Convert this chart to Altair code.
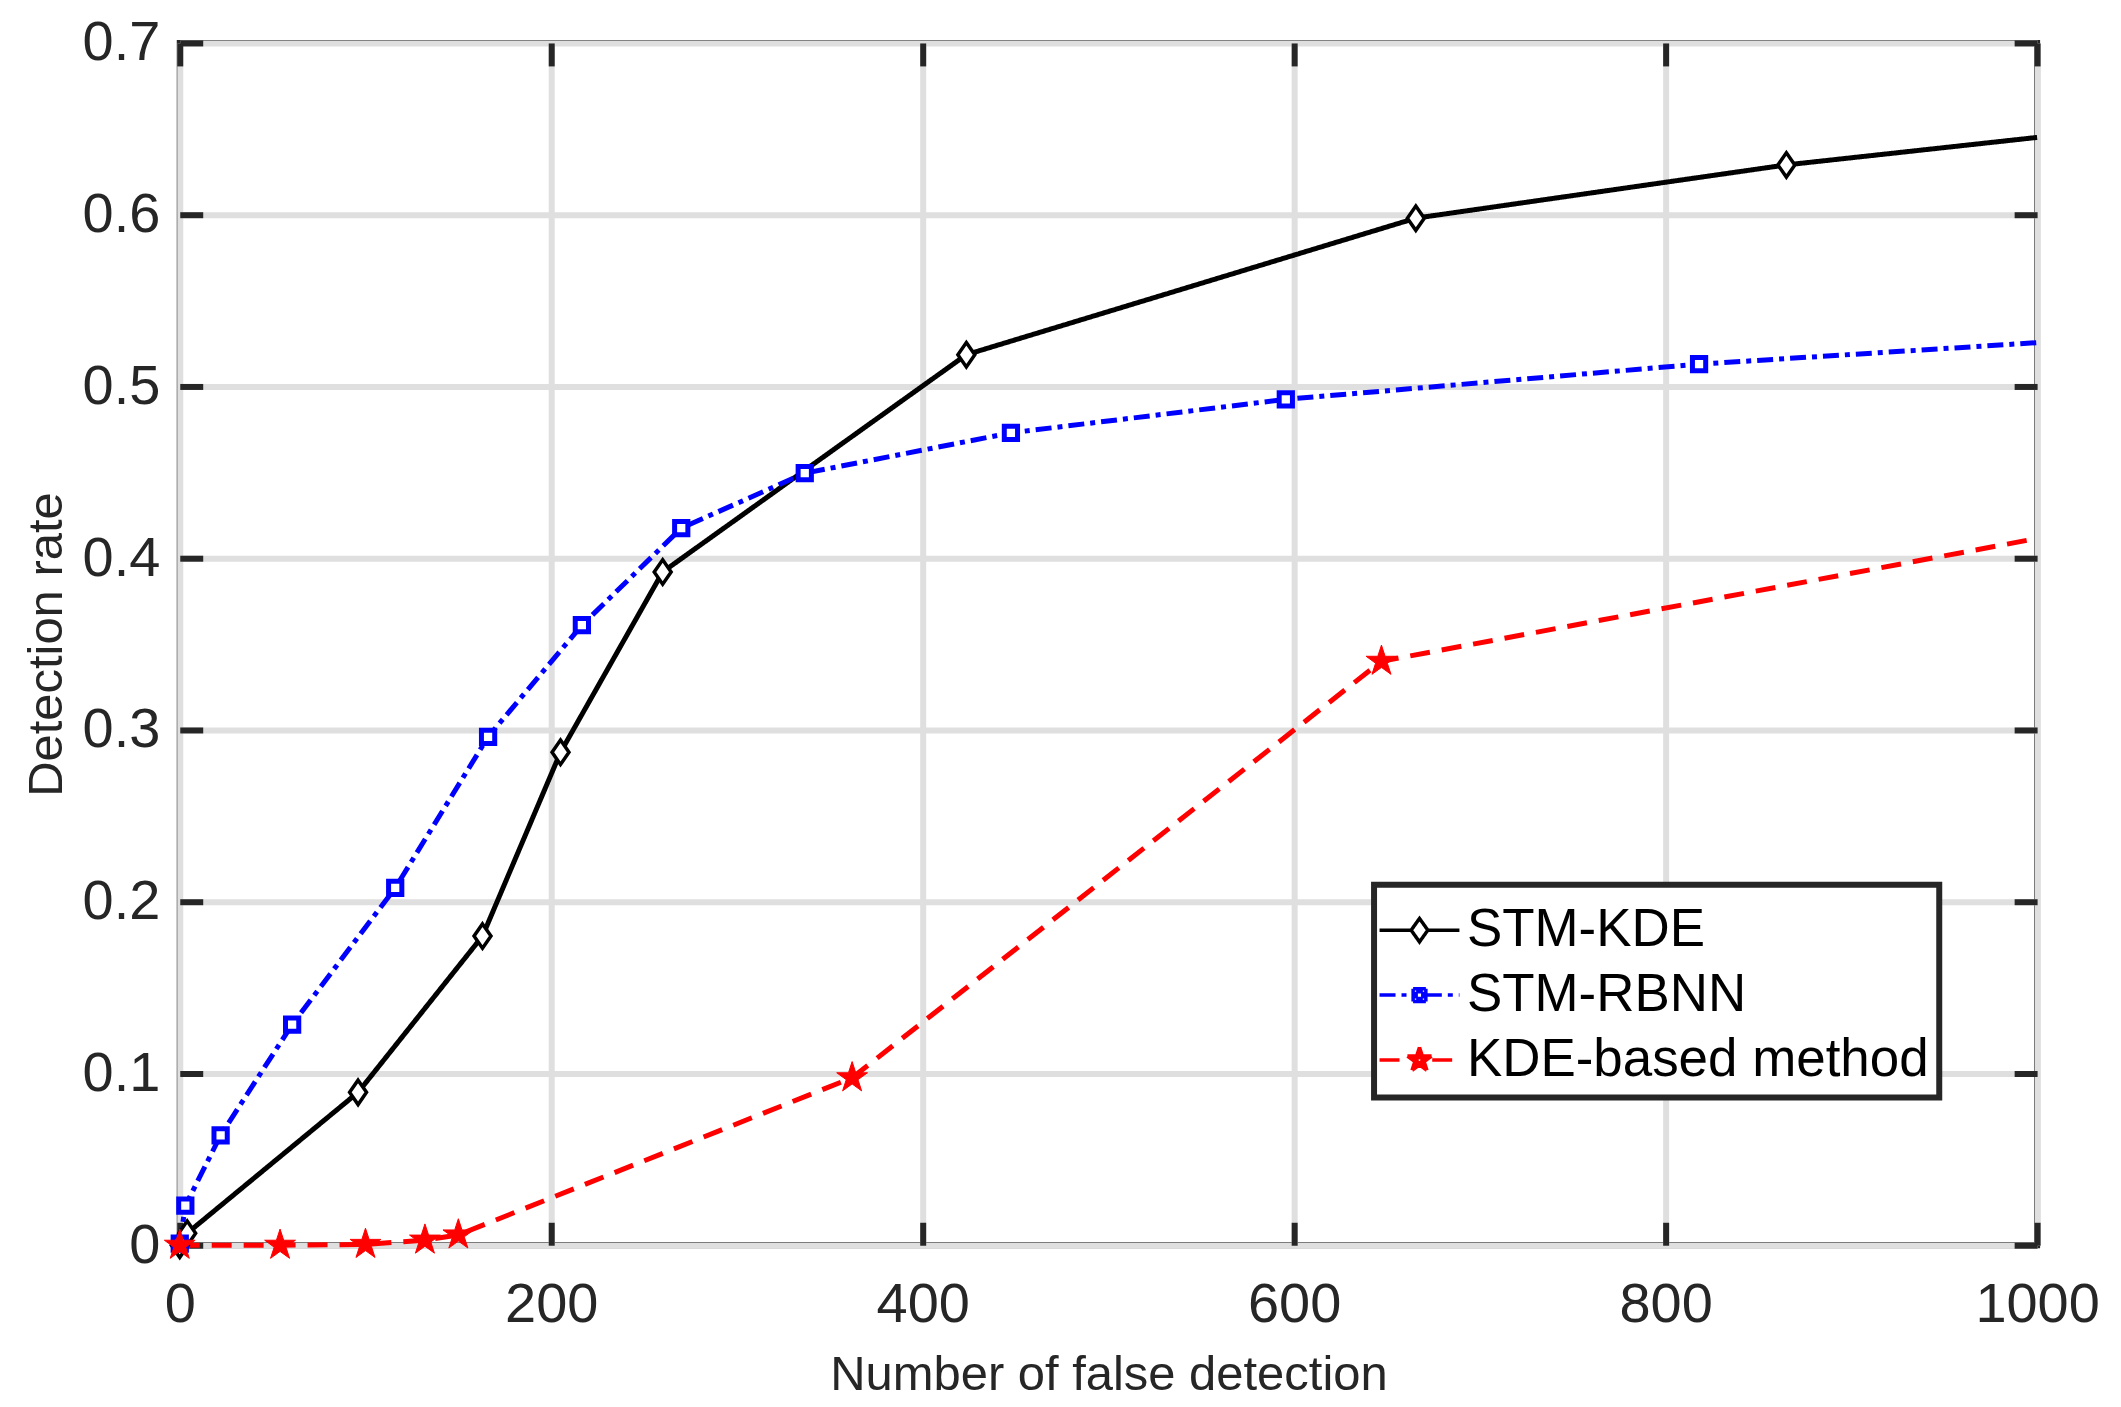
import math
import altair as alt
import pandas as pd

# ---------------- data ----------------
series_names = ["STM-KDE", "STM-RBNN", "KDE-based method"]

stm_kde_x = [0, 4, 96, 163, 205, 260, 423.5, 665.5, 865, 1000]
stm_kde_y = [0, 0.007, 0.089, 0.18, 0.287, 0.392, 0.5185, 0.598, 0.629, 0.645]

stm_rbnn_x = [0, 3, 22, 60.5, 116, 166, 216.5, 270, 336.5, 447.5, 595.5, 818, 1000]
stm_rbnn_y = [0.001, 0.023, 0.064, 0.1285, 0.208, 0.296, 0.361, 0.4175, 0.4495,
              0.473, 0.4925, 0.513, 0.5255]

kde_based_x = [0, 54, 100, 132, 150, 362, 647, 1000]
kde_based_y = [0, 0, 0.0005, 0.003, 0.006, 0.0975, 0.340, 0.4115]

x_ticks = [0, 200, 400, 600, 800, 1000]
y_ticks = [0, 0.1, 0.2, 0.3, 0.4, 0.5, 0.6, 0.7]

x_title = "Number of false detection"
y_title = "Detection rate"

# ---------------- build tables ----------------
line_rows, point_rows = [], []
for name, xs, ys in zip(series_names,
                        [stm_kde_x, stm_rbnn_x, kde_based_x],
                        [stm_kde_y, stm_rbnn_y, kde_based_y]):
    for i, (xv, yv) in enumerate(zip(xs, ys)):
        line_rows.append({"series": name, "x": xv, "y": yv, "order": i})
        if i < len(xs) - 1:  # last value is where the curve meets the axis limit
            point_rows.append({"series": name, "x": xv, "y": yv, "order": i})
line_df = pd.DataFrame(line_rows)
point_df = pd.DataFrame(point_rows)

# ---------------- styles ----------------
FONT = "Liberation Sans"
AX = "#262626"
colors = ["#000000", "#0000ff", "#ff0000"]
dashes = [[1, 0], [16, 6, 5, 6], [20, 12]]


def star_pts(R, inner=0.382):
    pts = []
    for k in range(10):
        ang = math.radians(-90 + 36 * k)
        r = R if k % 2 == 0 else R * inner
        pts.append((r * math.cos(ang), r * math.sin(ang)))
    return pts


def closed(pts):
    return "M" + "L".join(f"{px:.3f},{py:.3f}" for px, py in pts) + "Z"


def edges(pts):
    # every edge as its own sub-path, so a dash pattern never breaks it
    out = ""
    for k in range(len(pts)):
        a, b = pts[k], pts[(k + 1) % len(pts)]
        out += f"M{a[0]:.3f},{a[1]:.3f}L{b[0]:.3f},{b[1]:.3f}"
    return out


def sq_pts(h):
    return [(-h, -h), (h, -h), (h, h), (-h, h)]


diamond_shape = "M0,-0.72L0.5,0L0,0.72L-0.5,0Z"
square_shape = closed(sq_pts(0.42))
star_shape = closed(star_pts(1.0))

# legend symbols: a line with the marker in its middle
L = 1.194
leg_kde = f"M{-L},0H-0.25M0.25,0H{L}M0,-0.35L0.25,0L0,0.35L-0.25,0Z"
leg_rbnn = f"M{-L},0H-0.19M0.19,0H{L}" + edges(sq_pts(0.19)) + edges(sq_pts(0.1))
leg_kdeb = (f"M{-L},0H-0.38M0.38,0H{L}" + edges(star_pts(0.38))
            + edges(star_pts(0.24)) + edges(star_pts(0.11)))

legend = alt.Legend(
    title=None,
    orient="none",
    legendX=1196,
    legendY=843,
    labelFont=FONT,
    labelFontSize=53,
    labelColor="black",
    labelOffset=12,
    labelLimit=0,
    symbolSize=4489,
    symbolStrokeWidth=3.5,
    padding=10,
    rowPadding=2,
    strokeColor=AX,
    fillColor="white",
)

W, H = 1860, 1204
OFF = -23
TICK = 23

x_scale = alt.Scale(domain=[0, 1000], nice=False, zero=False)
y_scale = alt.Scale(domain=[0, 0.7], nice=False, zero=False)

x_axis_bottom = alt.Axis(
    orient="bottom", values=x_ticks, offset=OFF, tickSize=TICK, tickWidth=6, tickColor=AX,
    domain=False, grid=True, gridColor="#dfdfdf", gridWidth=6,
    labelFont=FONT, labelFontSize=56, labelColor=AX, labelPadding=32,
    labelFlush=False, labelOverlap=False, format="d",
    title=x_title, titleFont=FONT, titleFontSize=49, titleFontWeight="normal", titleColor=AX,
    titleX=W / 2, titleY=167, titleBaseline="alphabetic", titleAlign="center",
)
y_axis_left = alt.Axis(
    orient="left", values=y_ticks, offset=OFF, tickSize=TICK, tickWidth=6, tickColor=AX,
    domain=False, grid=True, gridColor="#dfdfdf", gridWidth=6,
    labelFont=FONT, labelFontSize=56, labelColor=AX, labelPadding=20,
    labelFlush=False, labelOverlap=False, format="~g",
    title=y_title, titleFont=FONT, titleFontSize=49, titleFontWeight="normal", titleColor=AX,
    titleX=-141, titleY=H / 2, titleAngle=270, titleBaseline="alphabetic", titleAlign="center",
)
x_axis_top = alt.Axis(
    orient="top", values=x_ticks, offset=OFF, tickSize=TICK, tickWidth=6, tickColor=AX,
    domain=False, grid=False, labels=False, title=None,
)
y_axis_right = alt.Axis(
    orient="right", values=y_ticks, offset=OFF, tickSize=TICK, tickWidth=6, tickColor=AX,
    domain=False, grid=False, labels=False, title=None,
)

color_enc = alt.Color("series:N", scale=alt.Scale(domain=series_names, range=colors), legend=legend)
dash_enc = alt.StrokeDash("series:N", scale=alt.Scale(domain=series_names, range=dashes), legend=legend)

lines = alt.Chart(line_df).mark_line(strokeWidth=5).encode(
    x=alt.X("x:Q", scale=x_scale, axis=x_axis_bottom),
    y=alt.Y("y:Q", scale=y_scale, axis=y_axis_left),
    color=color_enc,
    strokeDash=dash_enc,
    order=alt.Order("order:Q"),
)

# legend-only layer (no rows reach it; it only supplies the legend symbols)
legend_layer = alt.Chart(point_df).transform_filter("datum.x < -1").mark_point(
    filled=False, opacity=1, strokeWidth=3.5
).encode(
    x=alt.X("x:Q", scale=x_scale, axis=None),
    y=alt.Y("y:Q", scale=y_scale, axis=None),
    color=color_enc,
    strokeDash=dash_enc,
    shape=alt.Shape("series:N",
                    scale=alt.Scale(domain=series_names, range=[leg_kde, leg_rbnn, leg_kdeb]),
                    legend=legend),
)

marker_style = {
    "STM-KDE": dict(shape=diamond_shape, stroke="#000000", fill="white", strokeWidth=3.5, size=1150),
    "STM-RBNN": dict(shape=square_shape, stroke="#0000ff", fill="white", strokeWidth=5, size=1000),
    "KDE-based method": dict(shape=star_shape, stroke="#ff0000", fill="#ff0000", strokeWidth=1, size=1050),
}

marker_layers = []
for k, name in enumerate(series_names):
    st = marker_style[name]
    marker_layers.append(
        alt.Chart(point_df).transform_filter(alt.datum.series == name).mark_point(
            shape=st["shape"], stroke=st["stroke"], fill=st["fill"], strokeWidth=st["strokeWidth"],
            filled=False, opacity=1, fillOpacity=1, size=st["size"],
        ).encode(
            x=alt.X("x:Q", scale=x_scale, axis=x_axis_top if k == 0 else None),
            y=alt.Y("y:Q", scale=y_scale, axis=y_axis_right if k == 0 else None),
        )
    )

chart = (
    alt.layer(lines, *marker_layers, legend_layer)
    .resolve_axis(x="independent", y="independent")
    .properties(
        width=W,
        height=H,
        autosize=alt.AutoSizeParams(type="none"),
        padding={"left": 172, "top": 34, "right": 76, "bottom": 160},
        background="white",
    )
    .configure_view(stroke=AX, strokeWidth=6)
    .configure_legend(strokeWidth=6)
)

chart.save("out.html", embed_options={"renderer": "svg", "actions": False})
